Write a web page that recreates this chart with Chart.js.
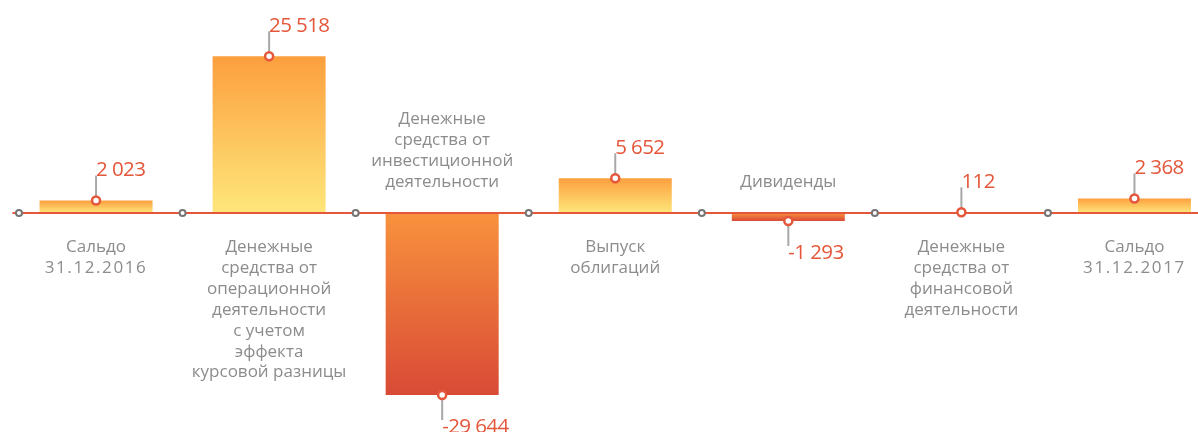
<!DOCTYPE html>
<html><head><meta charset="utf-8">
<script src="https://cdn.jsdelivr.net/npm/chart.js@4/dist/chart.umd.min.js"></script>
<style>
html,body{margin:0;padding:0;background:#fff;overflow:hidden;width:1198px;height:432px}
#wrap{position:absolute;left:0;top:0;width:1221px;height:432px}
</style></head>
<body><div id="wrap"><canvas id="c" width="1221" height="432"></canvas></div>
<script>
const categories = [
  ["Сальдо","31.12.2016"],
  ["Денежные","средства от","операционной","деятельности","с учетом","эффекта","курсовой разницы"],
  ["Денежные","средства от","инвестиционной","деятельности"],
  ["Выпуск","облигаций"],
  ["Дивиденды"],
  ["Денежные","средства от","финансовой","деятельности"],
  ["Сальдо","31.12.2017"]
];
const values = [2023, 25518, -29644, 5652, -1293, 112, 2368];
function fmt(v){
  const s = Math.abs(v).toString().replace(/\B(?=(\d{3})+(?!\d))/g, ' ');
  return (v < 0 ? '-' : '') + s;
}
const valueLabels = values.map(fmt);

const RED = '#e4573b';
const overlay = {
  id: 'overlay',
  afterDatasetsDraw(chart){
    const ctx = chart.ctx, x = chart.scales.x, y = chart.scales.y, area = chart.chartArea;
    const z = y.getPixelForValue(0);
    const n = categories.length;
    const cw = (area.right - area.left) / n;
    ctx.save();
    ctx.strokeStyle = RED; ctx.lineWidth = 2;
    ctx.beginPath(); ctx.moveTo(area.left + 3, z); ctx.lineTo(area.right, z); ctx.stroke();
    const cx = [area.left + 9.5];
    for (let i = 1; i < n; i++) cx.push(x.getPixelForValue(i) - cw / 2);
    ctx.fillStyle = '#fff'; ctx.strokeStyle = '#757575'; ctx.lineWidth = 2;
    cx.forEach(px => { ctx.beginPath(); ctx.arc(px, z, 3, 0, Math.PI*2); ctx.fill(); ctx.stroke(); });
    ctx.font = '17px "Open Sans"'; ctx.fillStyle = '#8c8c8c'; ctx.textAlign = 'center'; ctx.textBaseline = 'alphabetic';
    const lh = 20.9;
    categories.forEach((lines, i) => {
      const px = x.getPixelForValue(i);
      const draw = (t, yy) => {
        ctx.letterSpacing = /^[\d.]+$/.test(t) ? '1.6px' : '0px';
        ctx.fillText(t, px, yy);
      };
      if (values[i] >= 0) {
        lines.forEach((t, k) => draw(t, z + 39 + k*lh));
      } else {
        const L = lines.length;
        lines.forEach((t, k) => draw(t, z - 26 - (L-1-k)*lh));
      }
    });
    ctx.letterSpacing = '0px';
    const meta = chart.getDatasetMeta(0);
    meta.data.forEach((bar, i) => {
      const v = values[i];
      const mx = bar.x, my = bar.y;
      ctx.strokeStyle = '#a8a8a8'; ctx.lineWidth = 2;
      ctx.beginPath();
      if (v >= 0) { ctx.moveTo(mx, my); ctx.lineTo(mx, my - 25); }
      else { ctx.moveTo(mx, my); ctx.lineTo(mx, my + 25); }
      ctx.stroke();
      ctx.beginPath(); ctx.arc(mx, my, 4, 0, Math.PI*2);
      ctx.fillStyle = '#fff'; ctx.fill();
      ctx.strokeStyle = RED; ctx.lineWidth = 2.5; ctx.stroke();
      ctx.font = '500 20.5px "Open Sans"'; ctx.letterSpacing = '-0.6px';
      ctx.fillStyle = RED; ctx.textAlign = 'left'; ctx.textBaseline = 'alphabetic';
      if (v >= 0) ctx.fillText(valueLabels[i], mx, my - 24.5);
      else ctx.fillText(valueLabels[i], mx, my + 38);
      ctx.letterSpacing = '0px';
    });
    ctx.restore();
  }
};

new Chart(document.getElementById('c'), {
  type: 'bar',
  data: {
    labels: categories.map(c => c.join(' ')),
    datasets: [{
      data: values,
      categoryPercentage: 1,
      barPercentage: 0.653,
      backgroundColor: (c) => {
        const chart = c.chart;
        if (!chart.chartArea || c.raw === undefined) return '#fca040';
        const y = chart.scales.y;
        const z = y.getPixelForValue(0), p = y.getPixelForValue(c.raw);
        const g = chart.ctx.createLinearGradient(0, Math.min(z, p), 0, Math.max(z, p) + 0.001);
        if (c.raw >= 0) { g.addColorStop(0, '#fc9f3e'); g.addColorStop(1, '#fee77b'); }
        else { g.addColorStop(0, '#f8923d'); g.addColorStop(1, '#d94a36'); }
        return g;
      },
      borderWidth: 0
    }]
  },
  options: {
    responsive: false,
    animation: false,
    layout: { padding: { left: 9.5, right: 0, top: 0, bottom: 0 } },
    plugins: { legend: { display: false }, tooltip: { enabled: false } },
    scales: {
      x: { display: false, offset: true, grid: { display: false } },
      y: { display: false, min: -35668, max: 34691, grid: { display: false } }
    }
  },
  plugins: [overlay]
});
</script>
</body></html>
